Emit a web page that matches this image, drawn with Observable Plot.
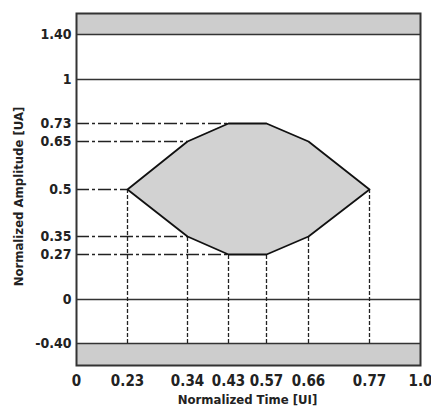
<!DOCTYPE html>
<html><head><meta charset="utf-8">
<script src="https://cdn.jsdelivr.net/npm/d3@7"></script>
<script src="https://cdn.jsdelivr.net/npm/@observablehq/plot@0.6"></script>
<style>
body{margin:0;background:#fff;}
svg text{font-stretch:condensed;}
</style></head><body><div id="chart"></div>
<script>
// Tick values and labels
const xTicks = [0, 0.23, 0.34, 0.43, 0.57, 0.66, 0.77, 1];
const xTickLabels = ["0", "0.23", "0.34", "0.43", "0.57", "0.66", "0.77", "1.0"];
const yTicks = [-0.4, 0, 0.27, 0.35, 0.5, 0.65, 0.73, 1, 1.4];
const yTickLabels = ["-0.40", "0", "0.27", "0.35", "0.5", "0.65", "0.73", "1", "1.40"];
// Eye mask (hexagon): time positions with lower and upper amplitude
const eyeTime = [0.23, 0.34, 0.43, 0.57, 0.66, 0.77];
const eyeLow  = [0.5, 0.35, 0.27, 0.27, 0.35, 0.5];
const eyeHigh = [0.5, 0.65, 0.73, 0.73, 0.65, 0.5];
// Limit lines and forbidden bands
const limitLevels = [1.4, 1, 0, -0.4];
const bandY1 = [1.4, -0.6];
const bandY2 = [1.6, -0.4];
const yAxisTitle = "Normalized Amplitude [UA]";
const xAxisTitle = "Normalized Time [UI]";

const eyeRows = eyeTime.map((t, i) => ({t, low: eyeLow[i], high: eyeHigh[i]}));
const outline = [
  ...eyeTime.map((t, i) => ({t, a: eyeHigh[i]})),
  ...eyeTime.map((t, i) => ({t, a: eyeLow[i]})).reverse()
];
const leftVerts = outline.filter(d => d.t < 0.5);
const uniqLeft = [];
for (const d of leftVerts) if (!uniqLeft.some(u => u.a === d.a)) uniqLeft.push(d);
const bottomVerts = eyeRows.map(d => ({t: d.t, a: d.low}));
const bands = bandY1.map((y1, i) => ({y1, y2: bandY2[i]}));

const font = "'DejaVu Sans Condensed', 'Liberation Sans Narrow', 'DejaVu Sans', sans-serif";

const chart = Plot.plot({
  width: 431,
  height: 417,
  marginLeft: 76, marginRight: 11, marginTop: 13, marginBottom: 52,
  style: {fontFamily: font, fontWeight: "bold", fontSize: "13px", color: "#222", background: "#fff"},
  x: {type: "linear", domain: xTicks, range: [76, 127, 187, 228, 266, 308, 369, 420]},
  y: {type: "linear", domain: [-0.6, ...yTicks, 1.6], range: [365, 343, 299, 254, 236, 189, 141, 123, 79, 34, 13]},
  marks: [
    Plot.rect(bands, {x1: 0, x2: 1, y1: "y1", y2: "y2", fill: "#cdcdcd"}),
    Plot.areaY(eyeRows, {x: "t", y1: "low", y2: "high", fill: "#d2d2d2"}),
    Plot.ruleY(limitLevels, {x1: 0, x2: 1, stroke: "#333", strokeWidth: 1.6}),
    Plot.ruleY(uniqLeft, {y: "a", x1: 0, x2: "t", stroke: "#222", strokeWidth: 1.3, strokeDasharray: "13,3,3,3"}),
    Plot.ruleX(bottomVerts, {x: "t", y1: -0.4, y2: "a", stroke: "#222", strokeWidth: 1.3, strokeDasharray: "4,2"}),
    Plot.line([...outline, outline[0]], {x: "t", y: "a", stroke: "#111", strokeWidth: 1.8, curve: "linear"}),
    Plot.frame({stroke: "#333", strokeWidth: 2}),
    Plot.axisY({ticks: yTicks, tickFormat: d => yTickLabels[yTicks.indexOf(d)], tickSize: 0, tickPadding: 5, fontSize: 14, label: null}),
    Plot.axisX({ticks: xTicks, tickFormat: d => xTickLabels[xTicks.indexOf(d)], tickSize: 0, tickPadding: 10, fontSize: 15, label: null}),
    Plot.text([xAxisTitle], {x: 0.5, frameAnchor: "bottom", dy: 38, text: d => d, fontSize: 13, fill: "#222"}),
    Plot.text([yAxisTitle], {y: 0.5, frameAnchor: "left", textAnchor: "middle", dx: -58, dy: 7, rotate: -90, text: d => d, fontSize: 13, fill: "#222"})
  ]
});
document.getElementById("chart").append(chart);
</script>
</body></html>
